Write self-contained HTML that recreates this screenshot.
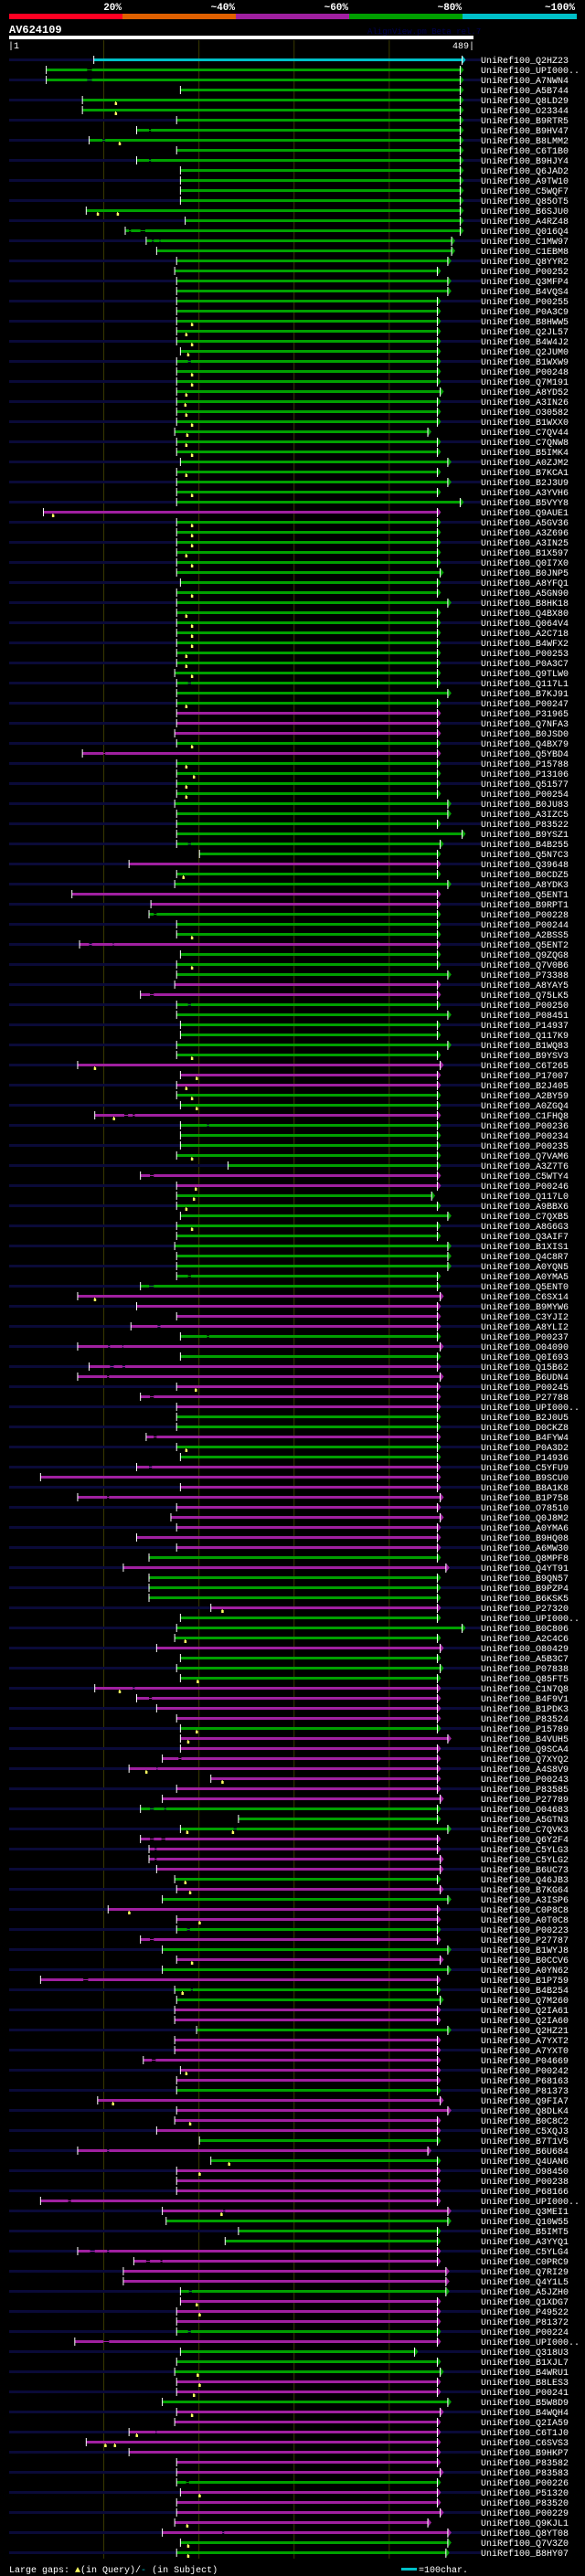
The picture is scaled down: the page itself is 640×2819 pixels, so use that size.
<!DOCTYPE html>
<html><head><meta charset="utf-8"><title>AV624109 alignment overview</title>
<style>
html,body{margin:0;padding:0;background:#000;}
body{width:640px;height:2819px;overflow:hidden;}
svg{display:block;}
text{font-family:"Liberation Mono","DejaVu Sans Mono",monospace;}
</style></head>
<body>
<svg id="chart" width="640" height="2819" viewBox="0 0 640 2819" xmlns="http://www.w3.org/2000/svg">
  <rect x="0" y="0" width="640" height="2819" fill="#000"/>
  <g>
    <rect x="10" y="15" width="124" height="6" fill="#ff0022"/>
    <rect x="134" y="15" width="124" height="6" fill="#e06000"/>
    <rect x="258" y="15" width="124" height="6" fill="#a020a0"/>
    <rect x="382" y="15" width="124" height="6" fill="#00a000"/>
    <rect x="506" y="15" width="125" height="6" fill="#00c0c8"/>
    <text x="133" y="11" fill="#fff" font-size="11" font-weight="bold" text-anchor="end">20%</text>
    <text x="257" y="11" fill="#fff" font-size="11" font-weight="bold" text-anchor="end">~40%</text>
    <text x="381" y="11" fill="#fff" font-size="11" font-weight="bold" text-anchor="end">~60%</text>
    <text x="505" y="11" fill="#fff" font-size="11" font-weight="bold" text-anchor="end">~80%</text>
    <text x="629" y="11" fill="#fff" font-size="11" font-weight="bold" text-anchor="end">~100%</text>
  </g>
  <text x="10" y="36" fill="#fff" font-size="12" font-weight="bold">AV624109</text>
  <text x="402" y="37" fill="#000050" font-size="9">AlignView.pm Beta rel.7</text>
  <rect x="10" y="39" width="508" height="4" fill="#fff"/>
  <text x="9" y="53" fill="#fff" font-size="10">|1</text>
  <text x="519" y="53" fill="#fff" font-size="10" text-anchor="end">489|</text>
  <g id="grid"></g>
  <g id="rows"></g>
  <g>
    <text x="10" y="2815" fill="#fff" font-size="10">Large gaps: <tspan fill="#ffff60">▲</tspan>(in Query)/<tspan fill="#00c0c8">-</tspan> (in Subject)</text>
    <rect x="439" y="2810" width="17" height="3" fill="#00c0c8"/>
    <text x="458" y="2815" fill="#fff" font-size="10">=100char.</text>
  </g>
</svg>
<script>
const queryLength = 489;
const gridTicks = [100, 200, 300, 400];
const names = ["Q2HZ23","UPI000..","A7NWN4","A5B744","Q8LD29","O23344","B9RTR5","B9HV47","B8LMM2","C6T1B0",
"B9HJY4","Q6JAD2","A9TW10","C5WQF7","Q85OT5","B6SJU0","A4RZ48","Q016Q4","C1MW97","C1EBM8",
"Q8YYR2","P00252","Q3MFP4","B4VQS4","P00255","P0A3C9","B8HWW5","Q2JL57","B4W4J2","Q2JUM0",
"B1WXW9","P00248","Q7M191","A8YD52","A3IN26","O30582","B1WXX0","C7QV44","C7QNW8","B5IMK4",
"A0ZJM2","B7KCA1","B2J3U9","A3YVH6","B5VYY8","Q9AUE1","A5GV36","A3Z696","A3IN25","B1X597",
"Q0I7X0","B0JNP5","A8YFQ1","A5GN90","B8HK18","Q4BX80","Q064V4","A2C718","B4WFX2","P00253",
"P0A3C7","Q9TLW0","Q117L1","B7KJ91","P00247","P31965","Q7NFA3","B0JSD0","Q4BX79","Q5YBD4",
"P15788","P13106","Q51577","P00254","B0JU83","A3IZC5","P83522","B9YSZ1","B4B255","Q5N7C3",
"Q39648","B0CDZ5","A8YDK3","Q5ENT1","B9RPT1","P00228","P00244","A2BSS5","Q5ENT2","Q9ZQG8",
"Q7V0B6","P73388","A8YAY5","Q75LK5","P00250","P08451","P14937","Q117K9","B1WQ83","B9YSV3",
"C6T265","P17007","B2J405","A2BY59","A0ZGQ4","C1FHQ8","P00236","P00234","P00235","Q7VAM6",
"A3Z7T6","C5WTY4","P00246","Q117L0","A9BBX6","C7QXB5","A8G6G3","Q3AIF7","B1XIS1","Q4C8R7",
"A0YQN5","A0YMA5","Q5ENT0","C6SX14","B9MYW6","C3YJI2","A8YLI2","P00237","O04090","Q0I693",
"Q15B62","B6UDN4","P00245","P27788","UPI000..","B2J0U5","D0CKZ8","B4FYW4","P0A3D2","P14936",
"C5YFU9","B9SCU0","B8A1K8","B1P758","O78510","Q0J8M2","A0YMA6","B9HQ08","A6MW30","Q8MPF8",
"Q4YT91","B9QN57","B9PZP4","B6KSK5","P27320","UPI000..","B0C806","A2C4C6","O80429","A5B3C7",
"P07838","Q85FT5","C1N7Q8","B4F9V1","B1PDK3","P83524","P15789","B4VUH5","Q9SCA4","Q7XYQ2",
"A4S8V9","P00243","P83585","P27789","O04683","A5GTN3","C7QVK3","Q6Y2F4","C5YLG3","C5YLG2",
"B6UC73","Q46JB3","B7KG64","A3ISP6","C0P8C8","A0T0C8","P00223","P27787","B1WYJ8","B0CCV6",
"A0YN62","B1P759","B4B254","Q7M260","Q2IA61","Q2IA60","Q2HZ21","A7YXT2","A7YXT0","P04669",
"P00242","P68163","P81373","Q9FIA7","Q8DLK4","B0C8C2","C5XQJ3","B7T1V5","B6U684","Q4UAN6",
"O98450","P00238","P68166","UPI000..","Q3MEI1","Q10W55","B5IMT5","A3YYQ1","C5YLG4","C0PRC9",
"Q7RI29","Q4Y1L5","A5JZH0","Q1XDG7","P49522","P81372","P00224","UPI000..","Q318U3","B1XJL7",
"B4WRU1","B8LES3","P00241","B5W8D9","B4WQH4","Q2IA59","C6T1J0","C6SVS3","B9HKP7","P83582",
"P83583","P00226","P51320","P83520","P00229","Q9KJL1","Q8YT08","Q7V3Z0","B8HY07"];
const starts = [90,40,40,181,78,78,177,135,85,177,
135,181,181,181,181,82,186,123,145,156,
177,175,177,177,177,177,177,177,177,181,
177,177,177,177,177,177,177,175,177,177,
181,177,177,177,177,37,177,177,177,177,
177,177,181,177,177,177,177,177,177,177,
177,175,177,177,177,177,177,175,177,78,
177,177,177,177,175,177,177,177,177,201,
127,177,175,67,150,148,177,177,75,181,
177,177,175,139,177,177,181,181,177,177,
73,181,177,177,181,91,181,181,181,177,
231,139,177,177,177,181,177,177,175,177,
177,177,139,73,135,177,129,181,73,181,
85,73,177,139,177,177,177,145,177,181,
135,34,181,73,177,171,177,135,177,148,
121,148,148,148,213,181,177,175,156,181,
177,181,91,135,156,177,181,181,181,162,
127,213,177,162,139,242,181,139,148,148,
156,175,177,162,105,177,177,139,162,177,
162,34,175,177,175,175,198,175,175,142,
181,177,177,94,177,175,156,201,73,213,
177,177,177,34,162,166,242,228,73,132,
121,121,181,181,177,177,177,70,181,177,
175,177,177,162,177,175,127,82,127,177,
177,177,181,177,177,175,162,181,177];
const ends = [477,475,475,475,475,475,475,475,475,475,
475,475,475,475,475,475,475,475,466,466,
462,451,462,462,451,451,451,451,451,451,
451,451,451,454,451,451,451,441,451,451,
462,451,462,451,475,451,451,451,451,451,
451,454,451,451,462,451,451,451,451,451,
451,451,451,462,451,451,451,451,451,451,
451,451,451,451,462,462,451,477,454,451,
451,451,462,451,451,451,451,451,451,451,
451,462,451,451,451,462,451,451,462,451,
454,451,451,451,451,451,451,451,451,451,
451,451,451,445,451,462,451,451,462,462,
462,451,451,454,451,451,451,451,454,451,
451,454,451,451,451,451,451,451,451,451,
451,451,451,454,451,454,451,451,451,451,
460,451,451,451,451,451,477,451,454,451,
454,451,451,451,451,451,451,462,451,451,
451,451,451,454,451,451,462,451,451,454,
454,451,454,462,451,451,451,451,462,454,
462,451,451,454,451,451,462,451,451,451,
451,451,451,454,462,451,451,451,441,451,
451,451,451,451,462,462,451,451,451,451,
460,460,460,451,451,451,451,451,427,451,
454,451,451,462,454,451,451,451,451,451,
454,451,451,451,454,441,462,462,460];
const identityClass = ("cggggggggg"+"gggggggggg"+"gggggggggg"+"gggggggggg"+"gggggmgggg"+
"gggggggggg"+"gggggmmmgm"+"gggggggggg"+"mggmmgggmg"+"ggmmgggggg"+
"mmmggmgggg"+"gmmggggggg"+"gggmmmmgmg"+"mmmmmggmgg"+"mmmmmmmmmg"+
"mgggmgggmg"+"ggmmmmgmmm"+"mmmmgggmmm"+"mgmgmmgmgm"+"gmggmmgmmm"+
"mmgmmmmgmg"+"mmmmmgggmm"+"mmgmmmgmgg"+"gmmgmmmmmm"+"mgmmmmmgg").split("");
const subjectGaps = [[1,83,88],[2,83,88],[7,148,150],[8,99,102],[10,148,150],[17,127,129],[17,139,144],[18,151,153],[18,159,160],[30,189,192],[62,189,192],[69,100,102],[78,189,192],[85,153,156],[88,85,88],[88,110,111],[93,149,153],[94,189,192],[105,122,126],[105,131,133],[106,209,211],[111,149,153],[121,189,192],[122,148,153],[126,157,160],[127,209,211],[128,105,107],[128,120,121],[130,107,111],[130,120,123],[131,104,106],[133,149,153],[137,153,156],[140,148,151],[143,104,106],[162,131,133],[163,148,151],[169,179,182],[170,156,157],[174,149,153],[174,164,166],[176,237,240],[177,149,153],[177,161,165],[178,154,156],[179,154,156],[186,188,191],[187,149,153],[191,79,84],[192,192,194],[199,151,155],[208,104,106],[213,63,66],[214,226,228],[218,86,91],[218,104,106],[219,145,149],[219,160,162],[222,190,193],[226,189,192],[227,100,106],[236,155,156],[241,187,190],[246,225,227]];
const queryGaps = [[4,113],[5,113],[8,117],[15,94],[15,115],[26,193],[27,187],[28,193],[29,189],[31,193],[32,193],[33,187],[34,186],[35,187],[36,193],[37,188],[38,187],[39,193],[41,187],[43,193],[45,47],[46,193],[47,193],[48,193],[49,187],[50,193],[53,193],[55,187],[56,193],[57,193],[58,193],[59,187],[60,187],[61,193],[64,187],[68,193],[70,187],[71,195],[72,187],[73,187],[81,184],[87,193],[90,193],[99,193],[100,91],[101,198],[102,187],[103,193],[104,198],[105,111],[109,193],[112,197],[113,195],[114,187],[116,193],[123,91],[132,197],[138,187],[154,225],[157,186],[161,199],[162,117],[166,198],[167,189],[170,145],[171,225],[176,188],[176,236],[181,186],[182,191],[184,127],[185,201],[189,193],[192,183],[200,187],[203,110],[205,191],[209,232],[210,201],[214,224],[223,198],[224,201],[230,199],[231,201],[232,195],[234,193],[236,135],[237,102],[237,112],[242,201],[245,188],[247,189],[248,189]];

const NS = "http://www.w3.org/2000/svg";
const X0 = 10, X1 = 518, ROW0 = 65, ROWH = 11;
function xScale(r){ return X0 + (r - 1) * (X1 - X0) / (queryLength - 1); }
function yRow(i){ return ROW0 + i * ROWH; }
const palette = {g:"#00a000", m:"#a020a0", c:"#00c0c8"};
function mk(tag, attrs, parent){
  const e = document.createElementNS(NS, tag);
  for (const k in attrs) e.setAttribute(k, attrs[k]);
  parent.appendChild(e);
  return e;
}
const grid = document.getElementById("grid");
gridTicks.forEach(function(t){
  const l = mk("line", {x1:xScale(t)+0.5, x2:xScale(t)+0.5, y1:44, y2:2800, stroke:"#3a3a00", "stroke-width":1}, grid);
  
  
});
const rowsG = document.getElementById("rows");
names.forEach(function(nm, i){
  const y = yRow(i);
  const g = mk("g", {}, rowsG);
  
  
  if (i % 2 === 0) {
    const bg = mk("rect", {x:10, y:y-1, width:516, height:3, fill:"#0a0a38"}, g);
    
    
  }
  const col = palette[identityClass[i]];
  const xs = xScale(starts[i]), xe = xScale(ends[i]);
  const rowGaps = subjectGaps.filter(function(d){ return d[0] === i; });
  let cur = xs;
  const segs = [];
  rowGaps.forEach(function(d){ segs.push([cur, xScale(d[1])]); segs.push(null); cur = xScale(d[2]); });
  segs.push([cur, xe]);
  rowGaps.forEach(function(d){
    const t = mk("rect", {x:xScale(d[1]), y:y, width:xScale(d[2])-xScale(d[1]), height:1, fill:col}, g);
    
    
  });
  segs.forEach(function(s){
    if (!s) return;
    const b = mk("rect", {x:s[0], y:y-1, width:Math.max(0, s[1]-s[0]), height:3, fill:col}, g);
    
    
  });
  const ar = mk("polygon", {points:(xe)+","+(y-4.5)+" "+(xe+4)+","+(y+0.5)+" "+(xe)+","+(y+5.5), fill:col}, g);
  
  
  const st = mk("rect", {x:xs-0.5, y:y-4, width:1, height:9, fill:"#fff"}, g);
  
  
  const et = mk("rect", {x:xe-0.5, y:y-4, width:1, height:10, fill:"#fff"}, g);
  
  
  queryGaps.filter(function(d){ return d[0] === i; }).forEach(function(d){
    const qx = xScale(d[1]);
    const m1 = mk("rect", {x:qx-0.5, y:y+2, width:1, height:2, fill:"#ffff60"}, g);
    
    
    const m2 = mk("rect", {x:qx-1, y:y+3, width:2.5, height:3, fill:"#ffff60"}, g);
    
    
  });
  const tx = mk("text", {x:526, y:y+4, fill:"#fff", "font-size":10}, g);
  tx.textContent = "UniRef100_" + nm;
  
  
});
</script>
</body></html>
